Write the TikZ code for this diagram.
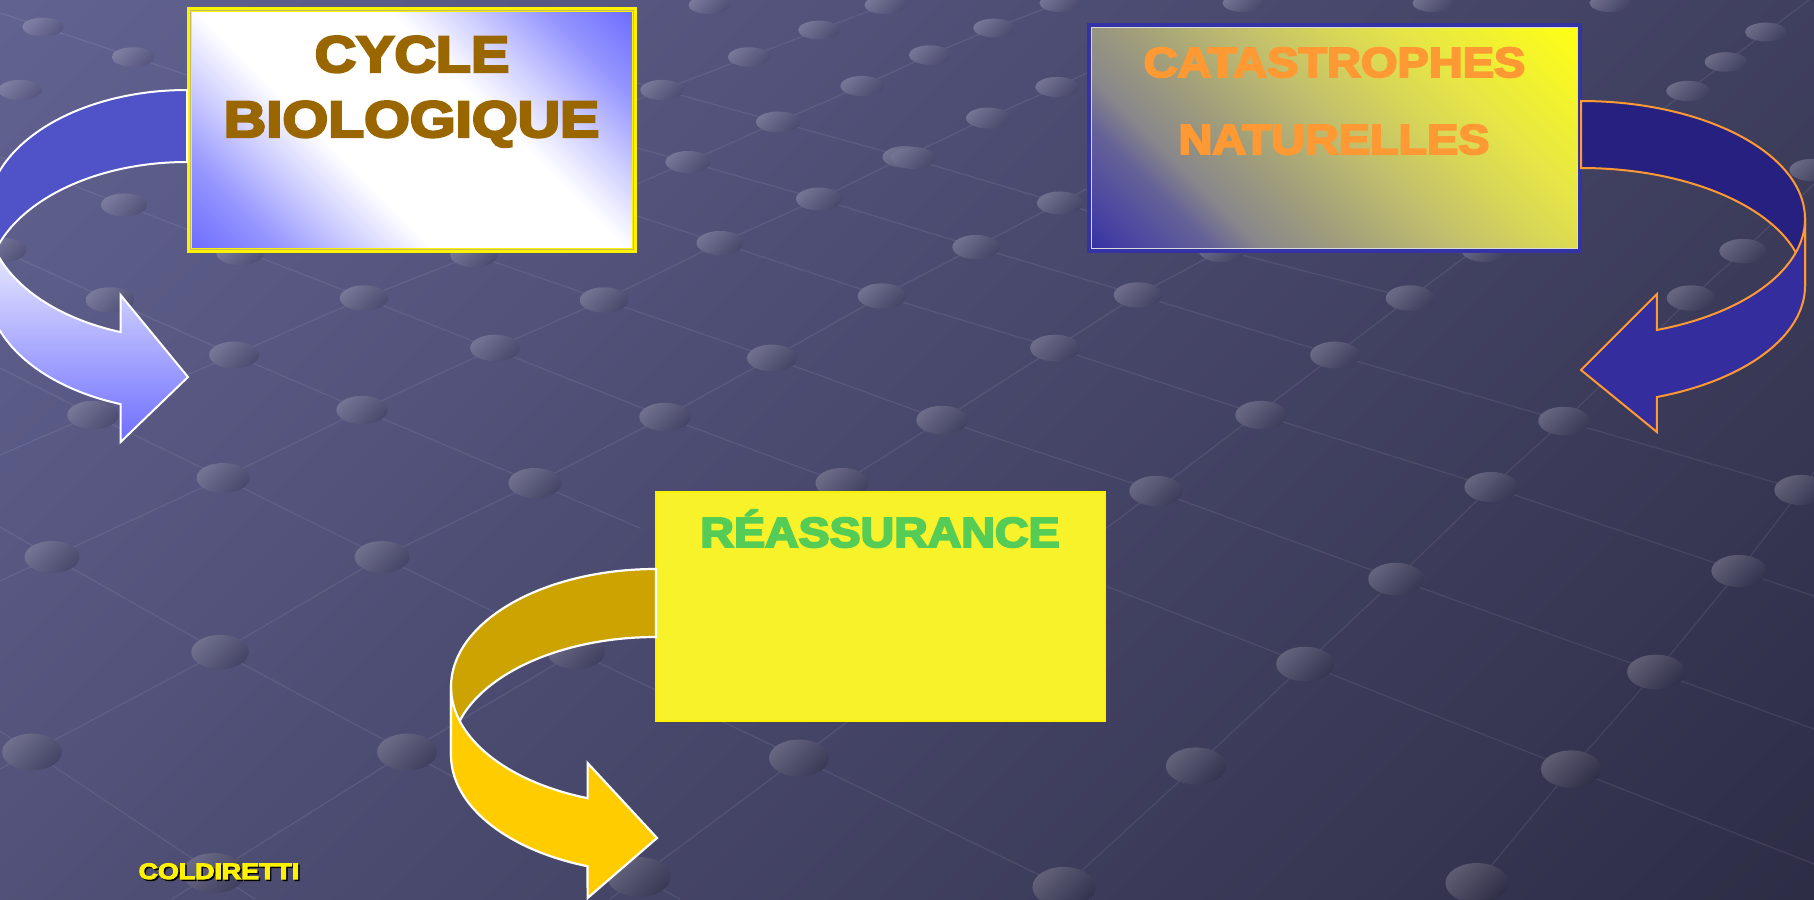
\documentclass[tikz,border=0pt]{standalone}
\usepackage{fontspec}
\setmainfont{Liberation Sans}
\newfontfamily\heavy[FakeBold=4.5]{Liberation Sans Bold}
\usepackage{graphicx}
\definecolor{bglight}{RGB}{98,98,145}
\definecolor{bgmid}{RGB}{72,72,108}
\definecolor{bgdark}{RGB}{46,45,70}
\definecolor{boxblue}{RGB}{104,104,255}
\definecolor{boxlava}{RGB}{150,150,255}
\definecolor{boxlavb}{RGB}{205,205,255}
\definecolor{arrowblueback}{RGB}{80,82,200}
\definecolor{arrowbluefront}{RGB}{110,110,255}
\definecolor{navyback}{RGB}{38,33,128}
\definecolor{navyfront}{RGB}{51,45,158}
\definecolor{orangeline}{RGB}{255,153,51}
\definecolor{goldback}{RGB}{204,163,0}
\definecolor{goldfront}{RGB}{255,204,0}
\definecolor{brownt}{RGB}{153,102,0}
\definecolor{greent}{RGB}{85,204,85}
\definecolor{boxthreefill}{RGB}{247,242,42}
\definecolor{boxtwoborder}{RGB}{51,51,166}
\definecolor{ctwoa}{RGB}{52,48,165}
\definecolor{ctwob}{RGB}{80,75,160}
\definecolor{ctwoc}{RGB}{100,97,152}
\definecolor{ctwod}{RGB}{137,135,138}
\definecolor{ctwoe}{RGB}{165,163,120}
\definecolor{ctwof}{RGB}{190,187,112}
\definecolor{ctwog}{RGB}{215,213,88}
\definecolor{ctwoh}{RGB}{230,230,70}
\definecolor{ctwoi}{RGB}{255,255,20}
\pgfdeclareverticalshading{bgshade}{100bp}{color(0bp)=(bgdark); color(15bp)=(bgdark); color(50bp)=(bgmid); color(85bp)=(bglight); color(100bp)=(bglight)}
\pgfdeclareverticalshading{boxoneshade}{100bp}{color(0bp)=(boxblue); color(14bp)=(boxblue); color(24bp)=(boxlava); color(32bp)=(boxlavb); color(40bp)=(white); color(60bp)=(white); color(68bp)=(boxlavb); color(76bp)=(boxlava); color(86bp)=(boxblue); color(100bp)=(boxblue)}
\pgfdeclareverticalshading{boxtwoshade}{100bp}{color(0bp)=(ctwoa); color(14.6bp)=(ctwoa); color(21bp)=(ctwob); color(27bp)=(ctwoc); color(32bp)=(ctwod); color(42bp)=(ctwoe); color(50bp)=(ctwof); color(60bp)=(ctwog); color(68bp)=(ctwoh); color(85bp)=(ctwoi); color(100bp)=(ctwoi)}
\tikzset{
  gridline/.style={draw=white, draw opacity=0.08, line width=1.3pt},
  boxnode/.style={rectangle, inner sep=0pt, outer sep=0pt},
  txt/.style={anchor=base, inner sep=0pt, outer sep=0pt},
  bigfont/.style={font=\heavy\fontsize{51.25}{56}\selectfont},
  midfont/.style={font=\heavy\fontsize{42.05}{46}\selectfont},
  smallfont/.style={font=\heavy\fontsize{22.3}{26}\selectfont},
}
\begin{document}
\begin{tikzpicture}[x=1pt, y=-1pt]
\useasboundingbox (0,0) rectangle (1814,899);
\clip (0,0) rectangle (1814,899);
% background
\shade[shading=bgshade, shading angle=45] (0,0) rectangle (1814,899);
% lattice lines
\draw[gridline] (1051,899) -- (1064,887) -- (1196,766) -- (1305,664) -- (1396,579) -- (1491,487) -- (1564,421) -- (1691,298) -- (1743,251) -- (1814,184);
\draw[gridline] (1464,899) -- (1477,883) -- (1571,769) -- (1656,672) -- (1739,571) -- (1801,490) -- (1814,472);
\draw[gridline] (610,899) -- (639,877) -- (799,758) -- (1156,491) -- (1410,298) -- (1726,62) -- (1766,32) -- (1809,0);
\draw[gridline] (172,899) -- (214,873) -- (407,752) -- (576,652) -- (842,483) -- (942,420) -- (1055,348) -- (1138,295) -- (1222,250);
\draw[gridline] (0,769) -- (32,752) -- (220,652) -- (382,557) -- (535,483) -- (665,417) -- (772,358) -- (882,296) -- (976,247) -- (1060,203) -- (1150,155);
\draw[gridline] (0,581) -- (52,557) -- (223,478) -- (362,410) -- (495,348) -- (604,300) -- (720,243) -- (819,199) -- (905,157) -- (988,118) -- (1057,87) -- (1100,67);
\draw[gridline] (0,455) -- (93,415) -- (234,355) -- (364,298) -- (474,255) -- (688,162) -- (778,122) -- (862,86) -- (930,55) -- (994,28) -- (1060,3) -- (1065,0);
\draw[gridline] (637,100) -- (662,90) -- (749,57) -- (819,30) -- (885,5) -- (898,0);
\draw[gridline] (0,368) -- (93,415) -- (223,478) -- (382,557) -- (576,652) -- (799,758) -- (1064,887) -- (1090,899);
\draw[gridline] (0,527) -- (52,557) -- (220,652) -- (407,752) -- (639,877) -- (680,899);
\draw[gridline] (0,731) -- (32,752) -- (214,873) -- (255,899);
\draw[gridline] (0,250) -- (110,300) -- (234,355) -- (362,410) -- (535,483) -- (640,528);
\draw[gridline] (0,157) -- (124,205) -- (364,298) -- (665,417) -- (842,483) -- (1305,664) -- (1571,769) -- (1814,864);
\draw[gridline] (440,243) -- (474,255) -- (604,300) -- (772,358) -- (942,420) -- (1156,491) -- (1396,579) -- (1656,672) -- (1814,729);
\draw[gridline] (637,216) -- (720,243) -- (882,296) -- (1055,348) -- (1261,415) -- (1491,487) -- (1739,571) -- (1814,596);
\draw[gridline] (637,148) -- (688,162) -- (819,199) -- (976,247) -- (1138,295) -- (1335,355) -- (1564,421) -- (1801,490) -- (1814,494);
\draw[gridline] (637,83) -- (662,90) -- (778,122) -- (905,157) -- (1060,203) -- (1222,250) -- (1410,298);
\draw[gridline] (0,13) -- (43,27) -- (133,57) -- (187,75);
% lattice dots
\foreach \px/\py in {43/27, 133/57, 20/90, 124/205, 3/250, 110/300, 364/298, 234/355, 495/348, 93/415, 362/410, 662/90, 749/57, 819/30, 885/5, 709/5, 778/122, 862/86, 688/162, 905/157, 819/199, 720/243, 604/300, 882/296, 772/358, 665/417, 474/255, 240/253,
 994/28, 930/55, 1057/87, 988/118, 913/158, 1060/203, 976/247, 1138/295, 1055/348, 942/420, 1410/298, 1335/355, 1261/415, 1691/298, 1564/421, 1743/251, 1726/62, 1766/32, 1688/91, 1812/170, 1060/3, 1243/3, 1433/3, 1610/3, 1222/250, 1485/250,
 223/478, 535/483, 842/483, 52/557, 382/557, 220/652, 576/652, 32/752, 407/752, 799/758, 214/873, 639/877,
 1156/491, 1491/487, 1801/490, 1396/579, 1739/571, 1305/664, 1656/672, 1196/766, 1571/769, 1064/887, 1477/883}{
  \pgfmathtruncatemacro\pct{50*(\px/1814+\py/899)}
  \pgfmathsetmacro\rx{20.5+0.0125*\py}
  \pgfmathsetmacro\ry{9+0.0125*\py}
  \colorlet{dc}{bgdark!\pct!bglight}
  \shade[top color=dc!80!white, bottom color=dc!90!black, shading angle=45] (\px,\py) ellipse [x radius=\rx pt, y radius=\ry pt];
}
% boxes
\node[boxnode, minimum width=445pt, minimum height=241pt, draw=yellow, line width=5pt, shading=boxoneshade, shading angle=-45] (cycle) at (412,130) {};
\draw[yellow!45!gray, line width=0.8pt] ([shift={(1,1)}]cycle.north west) rectangle ([shift={(-1,-1)}]cycle.south east);
\node[boxnode, minimum width=491pt, minimum height=226pt, draw=boxtwoborder, line width=4pt, shading=boxtwoshade, shading angle=-45] (cata) at (1334.5,138) {};
\draw[white!70!gray, line width=0.8pt] ([shift={(2.5,2.5)}]cata.north west) rectangle ([shift={(-2.5,-2.5)}]cata.south east);
\node[boxnode, minimum width=449pt, minimum height=229pt, draw=yellow, line width=2.5pt, fill=boxthreefill] (reass) at (880.5,606.5) {};
% arrow 1 (blue, white outline)
\path[fill=arrowblueback, draw=white, line width=2pt, line join=miter] (187,90) arc[start angle=90, end angle=180, x radius=200pt, y radius=124.6pt] -- (-13,286.6) arc[start angle=180, end angle=90, x radius=200pt, y radius=124.6pt] -- cycle;
\path[top color=white, bottom color=arrowbluefront, draw=white, line width=2pt, line join=miter] (-13,214.6) -- (-13,286.6) arc[start angle=180, end angle=250.6, x radius=200pt, y radius=124.6pt] -- (120.6,442) -- (188,377) -- (120.6,295) -- (120.6,332.1) arc[start angle=250.6, end angle=180, x radius=200pt, y radius=124.6pt] -- cycle;
% arrow 2 (navy, orange outline)
\path[fill=navyback, draw=orangeline, line width=2pt, line join=miter] (1581,101) arc[start angle=90, end angle=0, x radius=224pt, y radius=118pt] -- (1805,286) arc[start angle=0, end angle=90, x radius=224pt, y radius=118pt] -- cycle;
\path[fill=navyfront, draw=orangeline, line width=2pt, line join=miter] (1805,219) -- (1805,286) arc[start angle=0, end angle=-70.2, x radius=224pt, y radius=118pt] -- (1656.9,432) -- (1581,370) -- (1656.9,294) -- (1656.9,330) arc[start angle=-70.2, end angle=0, x radius=224pt, y radius=118pt] -- cycle;
% arrow 3 (gold, white outline)
\path[fill=goldback, draw=white, line width=2.2pt, line join=miter] (656,569) arc[start angle=90, end angle=180, x radius=205pt, y radius=118pt] -- (451,755) arc[start angle=180, end angle=90, x radius=205pt, y radius=118pt] -- cycle;
\path[fill=goldfront, draw=white, line width=2.2pt, line join=miter] (451,687) -- (451,755) arc[start angle=180, end angle=250.5, x radius=205pt, y radius=118pt] -- (587.6,898) -- (657,838) -- (587.6,763) -- (587.6,798.2) arc[start angle=250.5, end angle=180, x radius=205pt, y radius=118pt] -- cycle;
% texts
\node[txt, bigfont, text=brownt] (tcycle) at (412,72) {\scalebox{1.12}[1]{CYCLE}};
\node[txt, bigfont, text=brownt] (tbio) at (411.5,137) {\scalebox{1.147}[1]{BIOLOGIQUE}};
\node[txt, midfont, text=orangeline] (tcata) at (1334.5,77) {\scalebox{1.116}[1]{CATASTROPHES}};
\node[txt, midfont, text=orangeline] (tnat) at (1334,154) {\scalebox{1.112}[1]{NATURELLES}};
\node[txt, midfont, text=greent] (treass) at (880,547) {\scalebox{1.106}[1]{RÉASSURANCE}};
\node[txt, smallfont, text=black] (tcoldshadow) at (220.5,880.5) {\scalebox{1.2}[1]{COLDIRETTI}};
\node[txt, smallfont, text=yellow] (tcold) at (219,879) {\scalebox{1.2}[1]{COLDIRETTI}};
\end{tikzpicture}
\end{document}
